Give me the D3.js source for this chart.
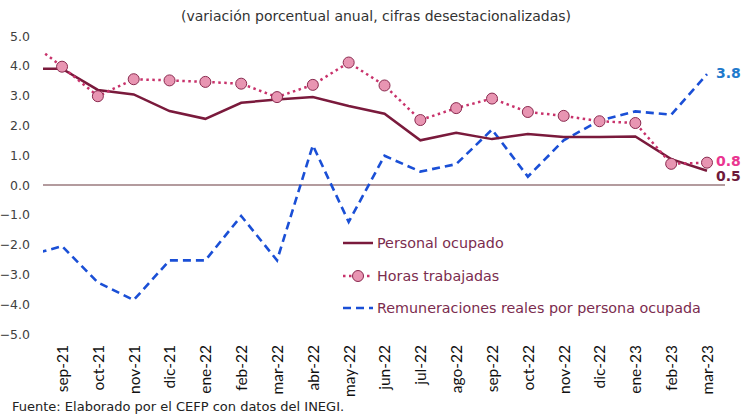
<!DOCTYPE html>
<html><head><meta charset="utf-8">
<script src="https://cdn.jsdelivr.net/npm/d3@7"></script>
<style>body{margin:0;background:#fff}svg{display:block}</style>
</head><body>
<script>
// categories (first one lies outside the visible plot and is clipped)
const categories = ["ago-21","sep-21","oct-21","nov-21","dic-21","ene-22","feb-22","mar-22","abr-22","may-22","jun-22","jul-22","ago-22","sep-22","oct-22","nov-22","dic-22","ene-23","feb-23","mar-23"];
const personalOcupado = [3.9,3.9,3.19,3.04,2.48,2.22,2.76,2.87,2.95,2.65,2.39,1.50,1.75,1.54,1.71,1.61,1.61,1.63,0.87,0.48];
const horasTrabajadas = [4.9,3.97,2.98,3.55,3.51,3.46,3.40,2.95,3.36,4.11,3.34,2.18,2.58,2.90,2.45,2.32,2.14,2.08,0.71,0.75];
const remuneraciones = [-2.39,-2.05,-3.27,-3.86,-2.53,-2.53,-1.04,-2.53,1.33,-1.24,0.98,0.45,0.70,1.86,0.28,1.50,2.16,2.47,2.36,3.72];
const yTicks = [5,4,3,2,1,0,-1,-2,-3,-4,-5];
const seriesNames = ["Personal ocupado","Horas trabajadas","Remuneraciones reales por persona ocupada"];
const endLabels = ["0.5","0.8","3.8"];
const title = "(variación porcentual anual, cifras desestacionalizadas)";
const source = "Fuente: Elaborado por el CEFP con datos del INEGI.";

const W = 752, H = 417;
const svg = d3.select("body").append("svg").attr("width", W).attr("height", H);
const plotL = 43, plotR = 725;

const x = d3.scalePoint().domain(categories).range([26.2, 707]);
const y = d3.scaleLinear().domain([-5, 5]).range([334, 36]);

const cPers = "#7a1a3c", cHoras = "#c8326b", cRem = "#1a4fd6";

svg.append("defs").append("clipPath").attr("id","clip")
  .append("rect").attr("x", plotL).attr("y", 0).attr("width", plotR - plotL).attr("height", H);

// title
svg.append("text").attr("x", 376).attr("y", 21).attr("text-anchor","middle")
  .style("font-family","DejaVu Sans").style("font-size","14px").attr("fill","#333")
  .text(title);

// y axis labels
const yAxis = d3.axisLeft(y).tickValues(yTicks).tickFormat(d3.format(".1f")).tickSize(0).tickPadding(0);
const gy = svg.append("g").attr("transform", `translate(30,0)`).call(yAxis);
gy.select(".domain").remove();
gy.selectAll("text").style("font-family","DejaVu Sans").style("font-size","12.5px").attr("fill","#404040");

// zero line
svg.append("line").attr("x1", plotL).attr("x2", plotR).attr("y1", y(0)).attr("y2", y(0))
  .attr("stroke","#9a7a7e").attr("stroke-width",1.3);

// x axis labels
const xAxis = d3.axisBottom(x).tickValues(categories.slice(1)).tickSize(0).tickPadding(0);
const gx = svg.append("g").attr("transform", `translate(0,345)`).call(xAxis);
gx.select(".domain").remove();
gx.selectAll("text")
  .attr("transform","rotate(-90)")
  .attr("x", 0).attr("y", 0).attr("dy","0.35em").attr("dx", 0)
  .attr("text-anchor","end")
  .style("font-family","Lato").style("font-size","15.5px").attr("fill","#111");

const plot = svg.append("g").attr("clip-path","url(#clip)");
const line = d3.line().x((d,i) => x(categories[i])).y(d => y(d));

plot.append("path").datum(remuneraciones).attr("d", line).attr("fill","none")
  .attr("stroke", cRem).attr("stroke-width", 2.6).attr("stroke-dasharray","8,5");
plot.append("path").datum(personalOcupado).attr("d", line).attr("fill","none")
  .attr("stroke", cPers).attr("stroke-width", 2.5);
plot.append("path").datum(horasTrabajadas).attr("d", line).attr("fill","none")
  .attr("stroke", cHoras).attr("stroke-width", 2.5).attr("stroke-dasharray","2.5,3.5");
plot.selectAll("circle.h").data(horasTrabajadas.slice(1)).join("circle")
  .attr("cx",(d,i) => x(categories[i+1])).attr("cy", d => y(d)).attr("r", 5.5)
  .attr("fill","#e895b2").attr("stroke","#8a2a4f").attr("stroke-width",1);

// end labels
const last = categories.length - 1;
const endData = [
  {v: personalOcupado[last], t: endLabels[0], c: "#6e1a3a", dy: 5},
  {v: horasTrabajadas[last], t: endLabels[1], c: "#ea3590", dy: -2},
  {v: remuneraciones[last], t: endLabels[2], c: "#1f7acc", dy: -1}
];
svg.selectAll("text.end").data(endData).join("text")
  .attr("x", x(categories[last]) + 9).attr("y", d => y(d.v) + d.dy).attr("dy","0.35em")
  .style("font-family","DejaVu Sans").style("font-size","14px").style("font-weight","bold")
  .attr("fill", d => d.c).text(d => d.t);

// legend
const lg = svg.append("g");
const ly = [243, 276, 308];
lg.append("line").attr("x1",343).attr("x2",373).attr("y1",ly[0]).attr("y2",ly[0]).attr("stroke",cPers).attr("stroke-width",2.5);
lg.append("line").attr("x1",343).attr("x2",373).attr("y1",ly[1]).attr("y2",ly[1]).attr("stroke",cHoras).attr("stroke-width",2.5).attr("stroke-dasharray","2.5,3.5");
lg.append("circle").attr("cx",358).attr("cy",ly[1]).attr("r",5.5).attr("fill","#e895b2").attr("stroke","#8a2a4f").attr("stroke-width",1);
lg.append("line").attr("x1",343).attr("x2",373).attr("y1",ly[2]).attr("y2",ly[2]).attr("stroke",cRem).attr("stroke-width",2.6).attr("stroke-dasharray","8,5");
lg.selectAll("text").data(seriesNames).join("text")
  .attr("x", 377).attr("y", (d,i) => ly[i]).attr("dy","0.35em")
  .style("font-family","DejaVu Sans").style("font-size","14.3px").attr("fill","#7b2c4e")
  .text(d => d);

// source
svg.append("text").attr("x", 12).attr("y", 411)
  .style("font-family","DejaVu Sans").style("font-size","13px").attr("fill","#222")
  .text(source);
</script>
</body></html>
